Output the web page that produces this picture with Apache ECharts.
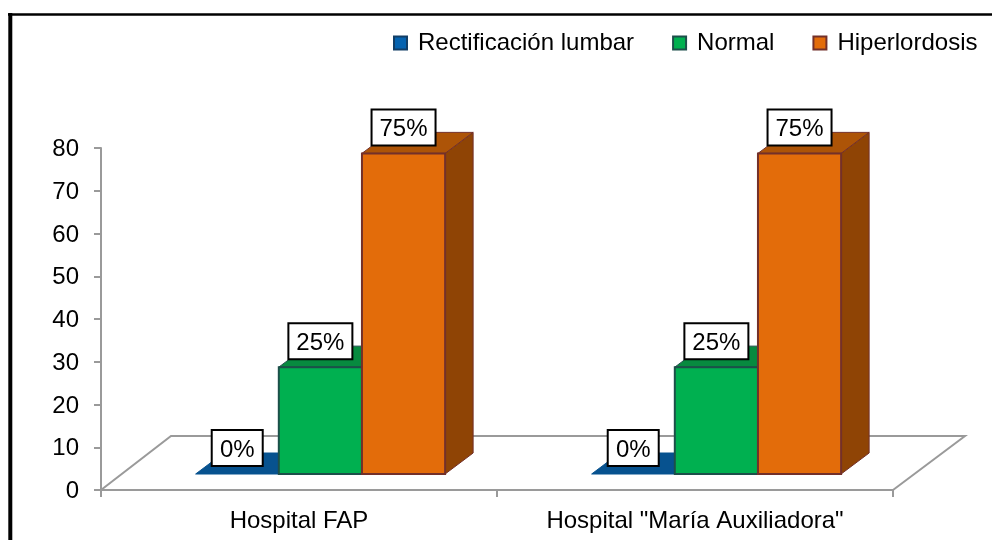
<!DOCTYPE html>
<html>
<head>
<meta charset="utf-8">
<style>html,body{margin:0;padding:0;background:#fff}#chart{width:992px;height:540px}</style>
<script src="https://cdn.jsdelivr.net/npm/echarts@6/dist/echarts.min.js"></script>
</head>
<body>
<div id="chart"></div>
<script>
// Postura lumbar por hospital
var categories = ['Hospital FAP', 'Hospital "María Auxiliadora"'];
var rectificacion = [0, 0];
var normal = [25, 25];
var hiperlordosis = [75, 75];
var yTicks = { min: 0, max: 80, interval: 10 };

// Bar palette: front face, top face, side face, outline
var palette = {
  rect: ['#0563B0', '#07528F', '#07528F', '#123E66'],
  norm: ['#00B050', '#078A3F', '#078A3F', '#1D4F4A'],
  hip: ['#E36C0A', '#AD5407', '#8F4405', '#73302A']
};

var FONT = '"Liberation Sans", Arial, sans-serif';
var BAR_RATIO = 0.21;      // bar width as a share of the category band
var GROUP_SHIFT = 0.054;   // bars sit right of the band centre, on the floor
var DX = 28, DY = -21;     // depth of each bar
var FLOOR_FRONT = 16;      // gap from the axis line to the front of the bars
var FLOOR_DX = 70, FLOOR_DY = -54;

function poly(points, fill, stroke, lw) {
  return { type: 'polygon', shape: { points: points },
    style: { fill: fill, stroke: stroke, lineWidth: lw, lineJoin: 'miter' } };
}

function barRenderer(slot, colors, showSide) {
  return function (params, api) {
    var cat = api.value(0), val = api.value(1);
    var band = api.size([1, 0])[0];
    var w = band * BAR_RATIO;
    var base = api.coord([cat, 0]);
    var top = api.coord([cat, val]);
    var x0 = base[0] + band * GROUP_SHIFT + (slot - 1.5) * w;
    var x1 = x0 + w;
    var y0 = base[1] - FLOOR_FRONT;
    var y1 = top[1] - FLOOR_FRONT;
    var kids = [];
    if (showSide) {
      kids.push(poly([[x1, y0], [x1 + DX, y0 + DY], [x1 + DX, y1 + DY], [x1, y1]], colors[2], colors[3], 1));
    }
    kids.push(poly([[x0, y1], [x1, y1], [x1 + DX, y1 + DY], [x0 + DX, y1 + DY]], colors[1], val > 0 ? colors[3] : colors[1], 1));
    if (val > 0) {
      kids.push({ type: 'rect', shape: { x: x0, y: y1, width: w, height: y0 - y1 },
        style: { fill: colors[0], stroke: colors[3], lineWidth: 2 } });
    }
    return { type: 'group', children: kids };
  };
}

function labelRenderer(slot) {
  return function (params, api) {
    var cat = api.value(0), val = api.value(1);
    var band = api.size([1, 0])[0];
    var w = band * BAR_RATIO;
    var base = api.coord([cat, 0]);
    var top = api.coord([cat, val]);
    var cx = base[0] + band * GROUP_SHIFT + (slot - 1) * w;
    var cy = top[1] - FLOOR_FRONT - 26;
    var txt = val + '%';
    var bw = val > 0 ? 64 : 51, bh = 36;
    return { type: 'group', children: [
      { type: 'rect', shape: { x: cx - bw / 2, y: cy - bh / 2, width: bw, height: bh },
        style: { fill: '#fff', stroke: '#000', lineWidth: 2 } },
      { type: 'text', x: cx, y: cy + 2,
        style: { text: txt, fill: '#000', font: '24px ' + FONT, align: 'center', verticalAlign: 'middle' } }
    ] };
  };
}

// Gray floor outline running behind the bars
function floorRenderer(params, api) {
  var start = api.coord([0, 0]);
  var band = api.size([1, 0])[0];
  var left = start[0] - band / 2, y = start[1];
  var right = left + band * categories.length;
  return { type: 'polyline',
    shape: { points: [[left, y], [left + FLOOR_DX, y + FLOOR_DY], [right + FLOOR_DX + 2, y + FLOOR_DY], [right, y]] },
    style: { fill: null, stroke: '#9A9A9A', lineWidth: 2 } };
}

function pairs(values) {
  return values.map(function (v, i) { return [i, v]; });
}

function barSeries(name, values, slot, colors, side) {
  return { name: name, type: 'custom', renderItem: barRenderer(slot, colors, side),
    data: pairs(values), z: 3, itemStyle: { color: colors[0], borderColor: colors[3], borderWidth: 1.5 },
    encode: { x: 0, y: 1 } };
}

function labelSeries(values, slot) {
  return { type: 'custom', renderItem: labelRenderer(slot), data: pairs(values), z: 5,
    encode: { x: 0, y: 1 }, silent: true };
}

var chart = echarts.init(document.getElementById('chart'), null, { renderer: 'canvas' });
chart.setOption({
  animation: false,
  backgroundColor: '#fff',
  textStyle: { fontFamily: FONT },
  grid: { left: 101, right: 99, top: 148, bottom: 50, containLabel: false },
  legend: {
    left: 388, top: 26, icon: 'rect', itemWidth: 13, itemHeight: 13, itemGap: 38,
    textStyle: { fontFamily: FONT, fontSize: 24, color: '#000', padding: [0, 0, 0, 6] },
    data: ['Rectificación lumbar', 'Normal', 'Hiperlordosis']
  },
  xAxis: {
    type: 'category', data: categories, boundaryGap: true,
    axisLine: { lineStyle: { color: '#9A9A9A', width: 2 } },
    axisTick: { show: true, length: 7, alignWithLabel: false, lineStyle: { color: '#9A9A9A', width: 2 } },
    axisLabel: { color: '#000', fontFamily: FONT, fontSize: 24, margin: 19 }
  },
  yAxis: {
    type: 'value', min: yTicks.min, max: yTicks.max, interval: yTicks.interval,
    splitLine: { show: false },
    axisLine: { show: true, lineStyle: { color: '#9A9A9A', width: 2 } },
    axisTick: { show: true, length: 7, lineStyle: { color: '#9A9A9A', width: 2 } },
    axisLabel: { color: '#000', fontFamily: FONT, fontSize: 24, margin: 22, verticalAlign: 'top', lineHeight: 3 }
  },
  graphic: [
    { type: 'line', z: 10, silent: true, shape: { x1: 10.3, y1: 13, x2: 10.3, y2: 540 },
      style: { stroke: '#000', lineWidth: 4 } },
    { type: 'line', z: 10, silent: true, shape: { x1: 8, y1: 14.5, x2: 992, y2: 14.5 },
      style: { stroke: '#000', lineWidth: 2.5 } }
  ],
  series: [
    { type: 'custom', renderItem: floorRenderer, data: [[0, 0]], z: 1, silent: true, encode: { x: 0, y: 1 } },
    barSeries('Rectificación lumbar', rectificacion, 0, palette.rect, false),
    barSeries('Normal', normal, 1, palette.norm, false),
    barSeries('Hiperlordosis', hiperlordosis, 2, palette.hip, true),
    labelSeries(rectificacion, 0),
    labelSeries(normal, 1),
    labelSeries(hiperlordosis, 2)
  ]
});
</script>
</body>
</html>
